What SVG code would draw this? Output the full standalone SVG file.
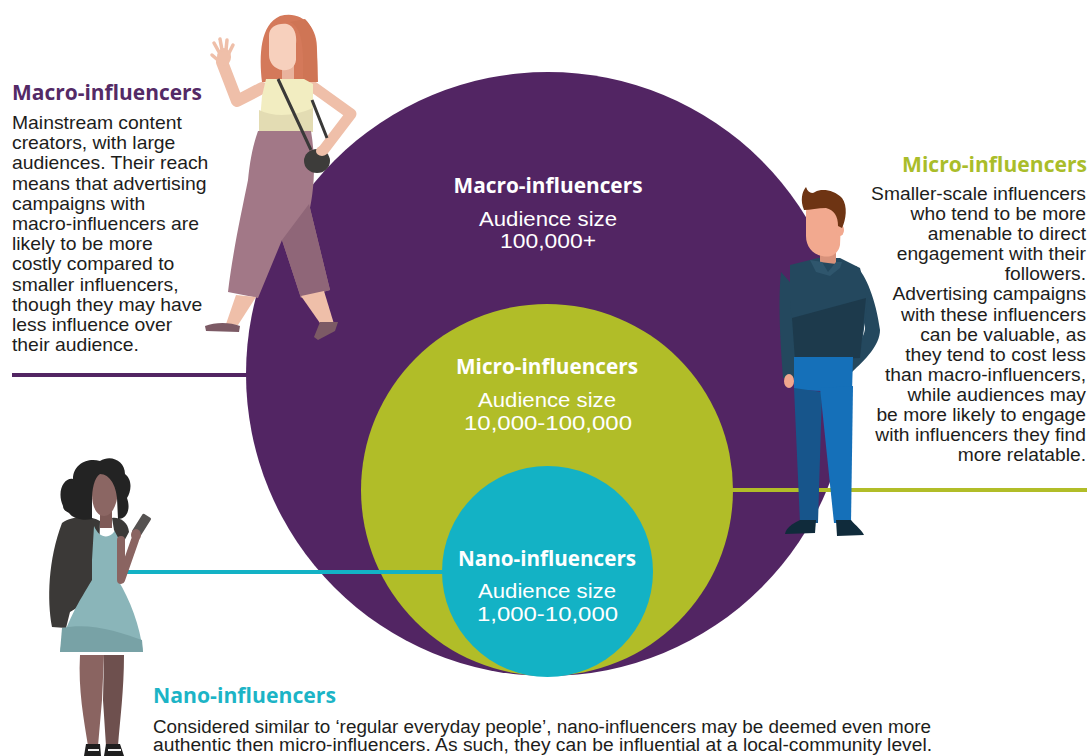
<svg xmlns="http://www.w3.org/2000/svg" width="1087" height="756" viewBox="0 0 1087 756">
  <defs>
    <style>
      .body { font-family: "Liberation Sans", Arial, sans-serif; font-size: 18px; fill: #1d1d1b; }
      .bodyR { font-family: "Liberation Sans", Arial, sans-serif; font-size: 17.9px; fill: #1d1d1b; text-anchor: end; }
      .foot { font-family: "Liberation Sans", Arial, sans-serif; font-size: 18px; fill: #1d1d1b; }
      .head { font-family: "Open Sans", "Liberation Sans", sans-serif; font-size: 21px; font-weight: bold; }
      .ctitle { font-family: "Open Sans", "Liberation Sans", sans-serif; font-size: 21px; font-weight: bold; fill: #ffffff; text-anchor: middle; }
      .csub { font-family: "Liberation Sans", Arial, sans-serif; font-size: 20px; fill: #ffffff; text-anchor: middle; }
      .link { fill: none; stroke-width: 4; }
    </style>
  </defs>

  <rect width="1087" height="756" fill="#ffffff"/>

  <!-- Nested audience circles -->
  <g id="macro-circle">
    <circle cx="548" cy="374" r="302" fill="#522563"/>
    <text class="ctitle" x="548" y="193" textLength="189" lengthAdjust="spacingAndGlyphs">Macro-influencers</text>
    <text class="csub" x="548" y="225.5" textLength="138" lengthAdjust="spacingAndGlyphs">Audience size</text>
    <text class="csub" x="548" y="248" textLength="96" lengthAdjust="spacingAndGlyphs">100,000+</text>
  </g>
  <g id="micro-circle">
    <circle cx="547" cy="490" r="186" fill="#b1bd28"/>
    <text class="ctitle" x="547" y="374.3" textLength="182" lengthAdjust="spacingAndGlyphs">Micro-influencers</text>
    <text class="csub" x="547" y="407.3" textLength="138" lengthAdjust="spacingAndGlyphs">Audience size</text>
    <text class="csub" x="548" y="430" textLength="168" lengthAdjust="spacingAndGlyphs">10,000-100,000</text>
  </g>
  <g id="nano-circle">
    <circle cx="547.5" cy="571.5" r="105.5" fill="#13b2c5"/>
    <text class="ctitle" x="547" y="565.7" textLength="178" lengthAdjust="spacingAndGlyphs">Nano-influencers</text>
    <text class="csub" x="547" y="598.3" textLength="138" lengthAdjust="spacingAndGlyphs">Audience size</text>
    <text class="csub" x="547.5" y="620.7" textLength="141" lengthAdjust="spacingAndGlyphs">1,000-10,000</text>
  </g>

  <!-- Leader lines from each circle to its description -->
  <g id="connectors">
    <line class="link" x1="12" y1="375" x2="247" y2="375" stroke="#522563"/>
    <line class="link" x1="732" y1="490" x2="1087" y2="490" stroke="#b1bd28"/>
    <line class="link" x1="124" y1="572" x2="443" y2="572" stroke="#13b2c5"/>
  </g>

  <!-- Waving woman (macro) -->
  <g id="figure-macro">
    <path d="M262,88 L237,101 L222,62" fill="none" stroke="#efbfa9" stroke-width="12" stroke-linecap="round" stroke-linejoin="round"/>
    <ellipse cx="224" cy="57" rx="7" ry="9" fill="#efbfa9"/>
    <g stroke="#efbfa9" stroke-width="3.5" stroke-linecap="round">
      <line x1="219" y1="52" x2="214" y2="43"/>
      <line x1="222" y1="50" x2="220" y2="39"/>
      <line x1="226" y1="50" x2="227" y2="40"/>
      <line x1="229" y1="53" x2="233" y2="45"/>
      <line x1="219" y1="61" x2="212" y2="55"/>
    </g>
    <path d="M312,86 L351,114 L322,152" fill="none" stroke="#efbfa9" stroke-width="11" stroke-linecap="round" stroke-linejoin="round"/>
    <path d="M262,82 C259,55 260,25 280,16 C300,10 318,25 317,50 L318,82 Z" fill="#d4795a"/>
    <rect x="282" y="64" width="12" height="16" fill="#e9b39d"/>
    <path d="M269,36 C269,27 277,23 287,24 C294,26 297,34 296,44 L296,60 C295,68 289,71 282,70 C275,69 269,63 269,55 Z" fill="#f7d0bd"/>
    <path d="M290,22 C302,28 304,45 303,82 L317,82 C318,55 317,30 305,19 Z" fill="#cf7555"/>
    <path d="M266,79 L304,79 L313,84 L313,132 L259,133 L262,96 Z" fill="#f2edc1"/>
    <path d="M259,110 C275,118 295,116 313,108 L313,132 L259,133 Z" fill="#e3dcb3"/>
    <path d="M258,131 L311,131 C316,160 314,190 310,208 L330,290 L301,298 L282,240 L258,298 L228,292 C233,250 242,210 248,180 C250,160 253,145 258,131 Z" fill="#a27887"/>
    <path d="M282,240 L309,204 L330,290 L301,298 Z" fill="#8f6678"/>
    <path d="M236,295 L256,297 L238,325 L226,324 Z" fill="#efbfa9"/>
    <path d="M301,296 L324,291 L334,324 L322,326 Z" fill="#efbfa9"/>
    <path d="M205,326 C215,322 230,322 240,326 L239,332 L206,331 Z" fill="#7c5a65"/>
    <path d="M320,322 L338,322 L335,331 L318,340 L314,337 Z" fill="#7c5a65"/>
    <path d="M278,79 L311,150 M312,100 L327,138" stroke="#3a3938" stroke-width="3" fill="none"/>
    <ellipse cx="317" cy="161" rx="13" ry="12" fill="#3d3c3a"/>
    <ellipse cx="322" cy="151" rx="6" ry="5" fill="#efbfa9"/>
  </g>

  <!-- Standing man (micro) -->
  <g id="figure-micro">
    <path d="M781,272 C778,300 780,340 783,378 L795,378 L797,290 Z" fill="#24485e"/>
    <ellipse cx="789" cy="381" rx="5" ry="7" fill="#f0a78e"/>
    <path d="M856,266 C866,275 876,300 880,330 C880,345 865,360 852,372 L845,362 C855,350 866,336 865,326 L858,300 Z" fill="#24485e"/>
    <path d="M790,265 L818,258 L840,258 L860,268 L868,300 L860,358 L795,360 L790,300 Z" fill="#24485e"/>
    <path d="M792,318 L866,298 L860,358 L795,360 Z" fill="#1d3a4c"/>
    <path d="M794,357 L853,357 L852,392 L794,390 Z" fill="#1570b9"/>
    <path d="M794,388 L822,392 L818,523 L800,523 Z" fill="#17558b"/>
    <path d="M820,388 L853,386 L851,523 L834,523 Z" fill="#1570b9"/>
    <path d="M800,520 L816,520 L815,533 L785,534 C786,528 792,524 800,520 Z" fill="#102b3b"/>
    <path d="M836,520 L851,520 C856,526 862,530 864,535 L837,536 Z" fill="#102b3b"/>
    <path d="M820,246 L836,246 L836,264 L820,262 Z" fill="#d8927b"/>
    <path d="M810,260 L822,262 L828,272 L836,262 L842,262 L840,268 L830,276 L816,272 Z" fill="#2f566d"/>
    <path d="M806,212 C806,200 818,196 828,198 C838,200 842,210 841,222 L840,245 C838,255 830,258 822,256 C812,254 806,246 806,236 Z" fill="#f2a98f"/>
    <ellipse cx="840" cy="230" rx="4" ry="6" fill="#f2a98f"/>
    <path d="M804,210 C800,200 802,192 806,187 C808,193 812,194 815,192 C822,188 834,190 842,198 C848,206 846,220 842,228 L838,226 C838,216 834,210 826,208 C818,208 810,210 804,210 Z" fill="#6e3413"/>
  </g>

  <!-- Woman with phone (nano) -->
  <g id="figure-nano">
    <path d="M62,523 C72,516 90,515 100,521 L98,595 L70,612 L66,628 L52,627 C47,600 48,560 62,523 Z" fill="#3b3937"/>
    <path d="M80,655 L104,655 L102,700 L98,746 L88,746 C84,720 78,690 80,655 Z" fill="#8a6461"/>
    <path d="M104,655 L124,655 C124,690 120,720 118,746 L106,746 L103,700 Z" fill="#6e504e"/>
    <path d="M94,526 C100,540 112,540 117,526 C122,530 124,545 120,560 L118,580 C130,600 140,625 143,652 L60,652 C64,625 80,600 92,580 L92,560 Z" fill="#8ab5b9"/>
    <path d="M62,628 C90,622 120,632 142,640 L143,652 L60,652 Z" fill="#78a2a6"/>
    <path d="M112,518 C120,517 128,522 129,532 L122,545 L114,530 Z" fill="#3b3937"/>
    <path d="M121,540 L121,580 L135,540" fill="none" stroke="#8a6461" stroke-width="8" stroke-linecap="round" stroke-linejoin="round"/>
    <rect x="-5" y="-12" width="10" height="22" rx="1.5" fill="#555251" transform="translate(141,526) rotate(32)"/>
    <ellipse cx="136" cy="535" rx="5" ry="6" fill="#8a6461"/>
    <rect x="100" y="508" width="12" height="20" fill="#7e5a57"/>
    <path d="M92,480 C92,470 100,466 108,468 C116,470 119,480 118,492 C117,505 112,516 104,516 C96,516 92,505 92,495 Z" fill="#8b6663"/>
    <path d="M63,506 C56,490 65,477 73,479 C73,464 88,457 100,461 C111,454 125,461 125,474 C133,480 131,492 127,498 C131,509 127,519 118,519 L117,498 C116,486 110,474 100,474 C94,478 92,490 92,500 L92,519 C84,521 73,519 69,513 C65,511 63,509 63,506 Z" fill="#232323"/>
    <path d="M86,744 L100,744 L101,756 L84,756 Z" fill="#1e1e1e"/>
    <path d="M106,744 L120,744 L124,756 L104,756 Z" fill="#1e1e1e"/>
    <path d="M88,750 L99,750 M108,750 L121,750" stroke="#f2f2f2" stroke-width="2"/>
  </g>

  <!-- Descriptions -->
  <g id="macro-text">
    <text class="head" x="12" y="100" fill="#542a66" textLength="190" lengthAdjust="spacingAndGlyphs">Macro-influencers</text>
    <g transform="translate(12,0) scale(1.075,1)">
      <text class="body" x="0" y="129">Mainstream content</text>
      <text class="body" x="0" y="149.2">creators, with large</text>
      <text class="body" x="0" y="169.4">audiences. Their reach</text>
      <text class="body" x="0" y="189.6">means that advertising</text>
      <text class="body" x="0" y="209.8">campaigns with</text>
      <text class="body" x="0" y="230">macro-influencers are</text>
      <text class="body" x="0" y="250.2">likely to be more</text>
      <text class="body" x="0" y="270.4">costly compared to</text>
      <text class="body" x="0" y="290.6">smaller influencers,</text>
      <text class="body" x="0" y="310.8">though they may have</text>
      <text class="body" x="0" y="331">less influence over</text>
      <text class="body" x="0" y="351.2">their audience.</text>
    </g>
  </g>

  <g id="micro-text">
    <text class="head" x="1087" y="172" fill="#aabd2a" text-anchor="end" textLength="185" lengthAdjust="spacingAndGlyphs">Micro-influencers</text>
    <g transform="translate(1086,0) scale(1.075,1)">
      <text class="bodyR" x="0" y="200">Smaller-scale influencers</text>
      <text class="bodyR" x="0" y="220.1">who tend to be more</text>
      <text class="bodyR" x="0" y="240.2">amenable to direct</text>
      <text class="bodyR" x="0" y="260.3">engagement with their</text>
      <text class="bodyR" x="0" y="280.4">followers.</text>
      <text class="bodyR" x="0" y="300.5">Advertising campaigns</text>
      <text class="bodyR" x="0" y="320.6">with these influencers</text>
      <text class="bodyR" x="0" y="340.7">can be valuable, as</text>
      <text class="bodyR" x="0" y="360.8">they tend to cost less</text>
      <text class="bodyR" x="0" y="380.9">than macro-influencers,</text>
      <text class="bodyR" x="0" y="401">while audiences may</text>
      <text class="bodyR" x="0" y="421.1">be more likely to engage</text>
      <text class="bodyR" x="0" y="441.2">with influencers they find</text>
      <text class="bodyR" x="0" y="461.3">more relatable.</text>
    </g>
  </g>

  <g id="nano-text">
    <text class="head" x="153" y="703" fill="#1cb4c6" textLength="183" lengthAdjust="spacingAndGlyphs">Nano-influencers</text>
    <text class="foot" x="153" y="733" textLength="778" lengthAdjust="spacingAndGlyphs">Considered similar to ‘regular everyday people’, nano-influencers may be deemed even more</text>
    <text class="foot" x="153" y="751" textLength="779" lengthAdjust="spacingAndGlyphs">authentic then micro-influencers. As such, they can be influential at a local-community level.</text>
  </g>
</svg>
